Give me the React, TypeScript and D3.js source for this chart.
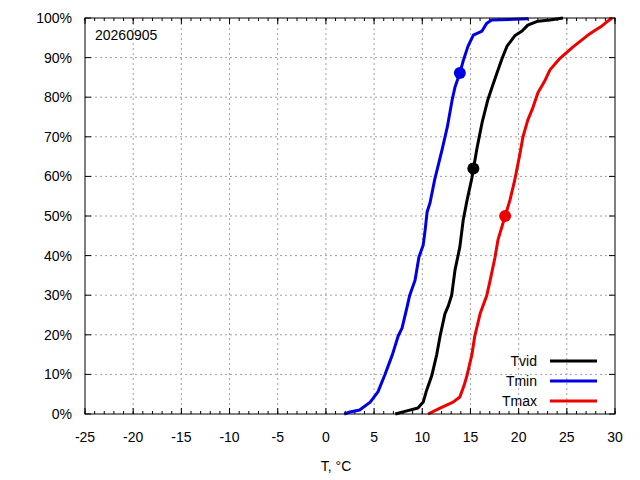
import { useMemo } from 'react';
import { scaleLinear, line, range } from 'd3';

const TMIN_T = [1.9, 2.5, 3.5, 4.6, 5.4, 6.1, 6.9, 7.5, 7.9, 8.4, 8.7, 9.25, 9.65, 10.1, 10.3, 10.5, 10.8, 11.3, 12.05, 12.6, 13.1, 13.4, 13.9, 14.3, 14.75, 15.3, 16.2, 16.7, 17.2, 21.0];
const TMIN_P = [0, 0.5, 1, 3, 5.6, 9.8, 15, 19.7, 21.7, 26.8, 30, 33.8, 39.6, 42.7, 46.5, 51, 53.3, 59.3, 66.7, 72.5, 79.3, 82.6, 86.1, 89.6, 92.9, 95.7, 96.7, 98.7, 99.5, 99.8];

const TVID_T = [7.2, 8.4, 9.55, 10.1, 10.4, 11.0, 11.5, 11.85, 12.35, 12.7, 13.05, 13.4, 13.9, 14.25, 14.65, 15.15, 15.7, 16.2, 16.8, 17.25, 17.75, 18.3, 18.8, 19.6, 20.35, 20.95, 22.0, 23.25, 24.6];
const TVID_P = [0, 0.8, 1.5, 3, 5.6, 9.8, 15, 19.7, 25.3, 27.3, 30, 36.4, 42.2, 49, 54, 59.6, 67.4, 73.5, 79.3, 82.6, 86.1, 89.9, 92.9, 95.5, 96.7, 98.2, 99.2, 99.5, 100];

const TMAX_T = [10.6, 11.85, 13.2, 13.9, 14.35, 14.65, 15.15, 15.45, 16.0, 16.7, 17.05, 17.55, 17.85, 18.6, 19.1, 19.6, 20.15, 20.45, 20.95, 21.5, 22.0, 22.75, 23.25, 24.2, 25.65, 27.1, 27.7, 28.65, 29.25, 29.7];
const TMAX_P = [0, 1.5, 3, 4.3, 7.3, 9.8, 15, 19.7, 25.3, 30, 33.8, 39.6, 43.9, 50, 54, 59.1, 65.9, 70, 74.2, 77.5, 81.1, 84.3, 86.9, 89.6, 92.7, 95.5, 96.5, 98, 99.2, 100];

// Marked point on each curve: [T, %]
const TVID_DOT = [15.3, 62];
const TMIN_DOT = [13.9, 86.1];
const TMAX_DOT = [18.6, 50];

const SERIES = [
  { name: 'Tvid', color: '#000000', t: TVID_T, p: TVID_P, dot: TVID_DOT },
  { name: 'Tmin', color: '#0000e6', t: TMIN_T, p: TMIN_P, dot: TMIN_DOT },
  { name: 'Tmax', color: '#ee0000', t: TMAX_T, p: TMAX_P, dot: TMAX_DOT },
];

const X_TICKS = range(-25, 31, 5);
const X_MINOR = range(-25, 31, 1);
const Y_TICKS = range(0, 101, 10);

const W = 640;
const H = 480;
const PLOT = { left: 85, right: 615, top: 18, bottom: 414 };
const FONT = "'Liberation Sans', Arial, sans-serif";
const GRID = '#a0a0a0';

export default function App() {
  const x = useMemo(() => scaleLinear().domain([-25, 30]).range([PLOT.left, PLOT.right]), []);
  const y = useMemo(() => scaleLinear().domain([0, 100]).range([PLOT.bottom, PLOT.top]), []);

  const path = line<[number, number]>().x((d) => x(d[0])).y((d) => y(d[1]));

  return (
    <div style={{ position: 'absolute', left: 0, top: 0 }}>
      <svg width={W} height={H} style={{ display: 'block', background: '#fff' }}>
        {/* Grid */}
        {X_TICKS.slice(1, -1).map((t) => (
          <line key={`gx${t}`} x1={x(t)} x2={x(t)} y1={PLOT.top} y2={PLOT.bottom}
            stroke={GRID} strokeWidth={1} strokeDasharray="2 3" />
        ))}
        {Y_TICKS.slice(1, -1).map((t) => (
          <line key={`gy${t}`} x1={PLOT.left} x2={PLOT.right} y1={y(t)} y2={y(t)}
            stroke={GRID} strokeWidth={1} strokeDasharray="2 3" />
        ))}

        {/* Minor x ticks, bottom and top */}
        {X_MINOR.map((t) => (
          <g key={`mx${t}`}>
            <line x1={x(t)} x2={x(t)} y1={PLOT.bottom} y2={PLOT.bottom - 3} stroke="#000" />
            <line x1={x(t)} x2={x(t)} y1={PLOT.top} y2={PLOT.top + 3} stroke="#000" />
          </g>
        ))}
        {/* Major x ticks */}
        {X_TICKS.map((t) => (
          <g key={`tx${t}`}>
            <line x1={x(t)} x2={x(t)} y1={PLOT.bottom} y2={PLOT.bottom - 6} stroke="#000" />
            <line x1={x(t)} x2={x(t)} y1={PLOT.top} y2={PLOT.top + 6} stroke="#000" />
            <text x={x(t)} y={PLOT.bottom + 28} textAnchor="middle" fontFamily={FONT} fontSize={14}>
              {t}
            </text>
          </g>
        ))}
        {/* Y ticks */}
        {Y_TICKS.map((t) => (
          <g key={`ty${t}`}>
            <line x1={PLOT.left} x2={PLOT.left + 6} y1={y(t)} y2={y(t)} stroke="#000" />
            <line x1={PLOT.right} x2={PLOT.right - 6} y1={y(t)} y2={y(t)} stroke="#000" />
            <text x={72} y={y(t) + 5} textAnchor="end" fontFamily={FONT} fontSize={14}>
              {t}%
            </text>
          </g>
        ))}

        {/* Curves */}
        {SERIES.map((s) => (
          <path key={s.name}
            d={path(s.t.map((t, i) => [t, s.p[i]] as [number, number])) ?? ''}
            fill="none" stroke={s.color} strokeWidth={3} strokeLinejoin="round" />
        ))}
        {SERIES.map((s) => (
          <circle key={`d${s.name}`} cx={x(s.dot[0])} cy={y(s.dot[1])} r={6} fill={s.color} />
        ))}

        {/* Border */}
        <rect x={PLOT.left} y={PLOT.top} width={PLOT.right - PLOT.left} height={PLOT.bottom - PLOT.top}
          fill="none" stroke="#000" strokeWidth={1} />

        {/* Date label */}
        <text x={95} y={40} fontFamily={FONT} fontSize={14}>20260905</text>

        {/* Legend */}
        {SERIES.map((s, i) => (
          <g key={`l${s.name}`} transform={`translate(0, ${361 + i * 20})`}>
            <text x={537} y={5} textAnchor="end" fontFamily={FONT} fontSize={14}>{s.name}</text>
            <line x1={550} x2={597} y1={0} y2={0} stroke={s.color} strokeWidth={3} />
          </g>
        ))}

        {/* Axis title */}
        <text x={336} y={471} textAnchor="middle" fontFamily={FONT} fontSize={14}>T, °C</text>
      </svg>
    </div>
  );
}
